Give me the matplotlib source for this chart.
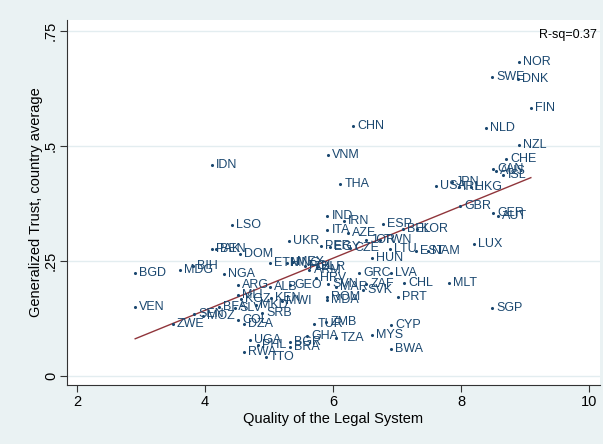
import numpy as np
import matplotlib
matplotlib.use("Agg")
import matplotlib.pyplot as plt

countries = ["NOR","SWE","DNK","FIN","CHN","NLD","NZL","IDN","VNM","CHE","CAN","AUS","ISL",
             "THA","USA","JPN","IRL","HKG","GBR","GER","AUT","LUX","IND","IRN","ITA","AZE",
             "ESP","BEL","KOR","JOR","TWN","LTU","EST","NAM","HUN","UKR","PER","EGY","CZE",
             "LSO","PAK","BEN","DOM","ETH","MNG","MEX","POL","ARM","BLR","HRV","BGD","MDG","BIH",
             "NGA","VEN","ARG","ALB","GEO","MLI","KGZ","KEN","MKD","MWI","GRC","LVA","CHL",
             "MLT","ZAF","SVK","SVN","MAR","PRT","ROM","MDA","SGP","CYP","MYS","BWA","TUR",
             "ZMB","GHA","TZA","UGA","PHL","BGR","BRA","RWA","TTO","ZWE","SEN","MOZ","BFA",
             "SLV","SRB","COL","DZA"]
legal = [8.91,8.48,8.89,9.09,6.31,8.39,8.91,4.11,5.92,8.70,8.50,8.55,8.66,
         6.11,7.61,7.86,7.97,8.16,7.98,8.50,8.58,8.20,5.91,6.17,5.91,6.23,
         6.78,7.09,7.31,6.52,6.73,6.89,7.30,7.48,6.61,5.31,5.81,5.95,6.27,
         4.42,4.11,4.17,4.55,5.02,5.28,5.38,5.56,5.63,5.75,5.73,2.91,3.61,3.81,
         4.30,2.91,4.52,5.02,5.33,4.52,4.56,5.03,4.80,5.20,6.41,6.91,7.11,
         7.81,6.52,6.47,5.92,6.05,7.02,5.91,5.91,8.48,6.91,6.61,6.91,5.70,
         5.89,5.59,6.05,4.70,4.83,5.33,5.33,4.61,4.95,3.50,3.83,3.97,4.22,
         4.47,4.89,4.52,4.61]
trust = [0.683,0.650,0.646,0.583,0.543,0.539,0.502,0.459,0.480,0.472,0.450,0.446,0.437,
         0.417,0.413,0.422,0.411,0.411,0.370,0.354,0.348,0.287,0.348,0.337,0.317,0.311,
         0.330,0.320,0.320,0.296,0.296,0.276,0.272,0.272,0.257,0.293,0.283,0.280,0.278,
         0.328,0.276,0.276,0.265,0.246,0.246,0.248,0.239,0.230,0.236,0.213,0.224,0.230,0.239,
         0.222,0.150,0.198,0.193,0.198,0.176,0.167,0.170,0.154,0.163,0.224,0.224,0.202,
         0.202,0.200,0.187,0.200,0.193,0.172,0.172,0.165,0.148,0.111,0.089,0.059,0.113,
         0.117,0.087,0.083,0.078,0.067,0.074,0.063,0.052,0.041,0.113,0.135,0.130,0.150,
         0.148,0.137,0.122,0.113]

x_ticks = [2, 4, 6, 8, 10]
y_ticks = [0, 0.25, 0.5, 0.75]
y_ticklabels = ["0", ".25", ".5", ".75"]
r2_text = "R-sq=0.37"

plt.rcParams['font.family'] = ['Liberation Sans', 'DejaVu Sans']
navy = "#1a476f"
bg = "#eaf2f3"

fig = plt.figure(figsize=(6.03, 4.44), dpi=100, facecolor=bg)
ax = fig.add_axes([0.111, 0.133, 0.884, 0.822])
ax.set_facecolor("white")
ax.set_xlim(1.844, 10.17)
ax.set_ylim(-0.0196, 0.774)

for yt in y_ticks:
    ax.axhline(yt, color="#e3edf0", lw=1.0, zorder=0)

x = np.array(legal)
y = np.array(trust)
ax.scatter(x, y, s=5, color=navy, zorder=3, linewidths=0)
for c, xi, yi in zip(countries, x, y):
    ax.annotate(c, (xi, yi), xytext=(3, 0), textcoords="offset points",
                va="center", ha="left", fontsize=9, color=navy, zorder=4)

b, a = np.polyfit(x, y, 1)
xs = np.array([x.min(), x.max()])
ax.plot(xs, a + b * xs, color="#90353b", lw=1.0, zorder=2)

ax.text(0.995, 0.975, r2_text, transform=ax.transAxes, ha="right", va="top", fontsize=9, color="black")

for s in ["top", "right"]:
    ax.spines[s].set_visible(False)
for s in ["left", "bottom"]:
    ax.spines[s].set_color("#333333")
    ax.spines[s].set_linewidth(0.8)

ax.set_xticks(x_ticks)
ax.set_xticklabels([str(t) for t in x_ticks], fontsize=10.5)
ax.set_yticks(y_ticks)
ax.set_yticklabels(y_ticklabels, fontsize=10.5, rotation=90, va="center")
ax.tick_params(direction="out", length=5, color="#333333", width=0.8)
ax.tick_params(axis="y", pad=1.5)
ax.tick_params(axis="x", pad=2.5)
ax.set_xlabel("Quality of the Legal System", fontsize=10.5, labelpad=2)
ax.set_ylabel("Generalized Trust, country average", fontsize=10.5, labelpad=1)

fig.savefig("out.png", dpi=100, facecolor=bg)
